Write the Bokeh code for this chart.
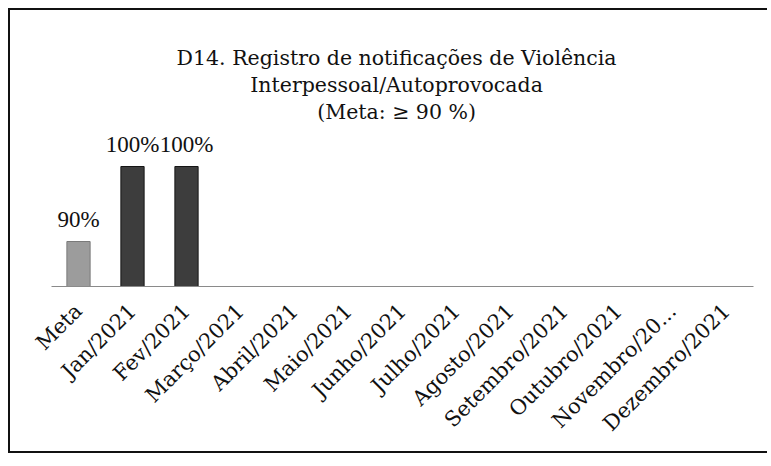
from bokeh.plotting import figure
from bokeh.models import ColumnDataSource, LabelSet, Label, Range1d, FactorRange
from bokeh.embed import file_html
from bokeh.resources import INLINE
import math

categories = ["Meta", "Jan/2021", "Fev/2021", "Março/2021", "Abril/2021", "Maio/2021",
              "Junho/2021", "Julho/2021", "Agosto/2021", "Setembro/2021", "Outubro/2021",
              "Novembro/20...", "Dezembro/2021"]
values = [90, 100, 100, None, None, None, None, None, None, None, None, None, None]
value_labels = ["90%", "100%", "100%", "", "", "", "", "", "", "", "", "", ""]
bar_colors = ["#9c9c9c", "#3d3d3d", "#3d3d3d"] + ["#3d3d3d"] * 10
edge_colors = ["#7a7a7a", "#151515", "#151515"] + ["#151515"] * 10
title_lines = ["D14. Registro de notificações de Violência",
               "Interpessoal/Autoprovocada",
               "(Meta: ≥ 90 %)"]

FONT = "DejaVu Serif"
Y_MIN, Y_MAX = 84, 120.8

bar_cats = [c for c, v in zip(categories, values) if v is not None]
bar_vals = [v for v in values if v is not None]
bar_lbls = [l for l, v in zip(value_labels, values) if v is not None]
bar_fill = [c for c, v in zip(bar_colors, values) if v is not None]
bar_line = [c for c, v in zip(edge_colors, values) if v is not None]

src = ColumnDataSource(dict(cat=bar_cats, val=bar_vals, lbl=bar_lbls,
                            fill=bar_fill, line=bar_line))

p = figure(x_range=FactorRange(*categories), y_range=Range1d(Y_MIN, Y_MAX),
           width=759, height=445, output_backend="svg", toolbar_location=None,
           min_border_left=41, min_border_right=16, min_border_bottom=169,
           min_border_top=0)
p.styles = {"margin-left": "8px", "margin-top": "8px",
            "border-left": "2px solid #111", "border-top": "2px solid #111",
            "border-bottom": "2px solid #111", "border-right": "0px none"}

# title lines (placed in data space above the bars)
title_y = [114.47, 110.87, 107.27]
for txt, ty in zip(title_lines, title_y):
    p.add_layout(Label(x=6.39, y=ty, text=txt, text_align="center",
                       text_baseline="alphabetic", text_font=FONT,
                       text_font_size="20.5px", text_color="#111111"))

p.vbar(x="cat", top="val", bottom=Y_MIN, width=0.43, source=src,
       fill_color="fill", line_color="line", line_width=1)

labels = LabelSet(x="cat", y="val", text="lbl", source=src, text_align="center",
                  text_baseline="alphabetic", y_offset=15, text_font=FONT,
                  text_font_size="23px", text_color="#111111")
p.add_layout(labels)

p.yaxis.visible = False
p.xgrid.grid_line_color = None
p.ygrid.grid_line_color = None
p.outline_line_color = None
p.xaxis.axis_line_color = "#8a8a8a"
p.xaxis.axis_line_width = 1
p.xaxis.major_tick_line_color = None
p.xaxis.minor_tick_line_color = None
p.xaxis.major_label_orientation = math.pi / 4
p.xaxis.major_label_text_font = FONT
p.xaxis.major_label_text_font_size = "21px"
p.xaxis.major_label_text_color = "#111111"
p.xaxis.major_label_standoff = 15
p.background_fill_color = "white"
p.border_fill_color = "white"

open("out.html", "w").write(file_html(p, INLINE))
